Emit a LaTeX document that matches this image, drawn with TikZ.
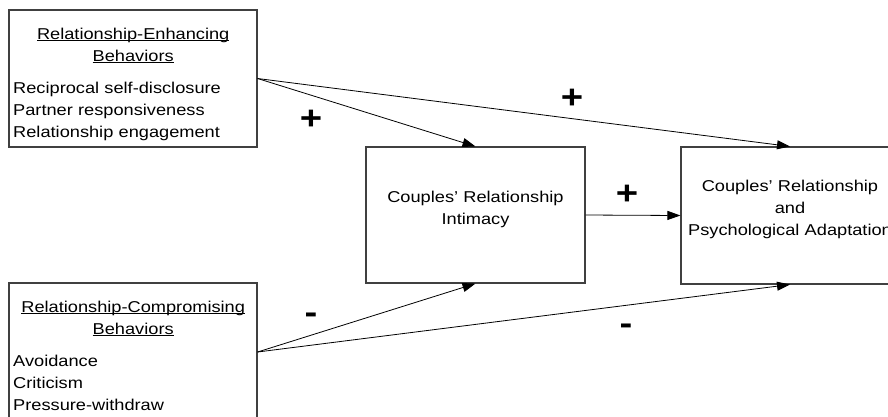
\documentclass[tikz,border=0pt]{standalone}
\usepackage{fontspec}
\setmainfont{Liberation Sans}[FakeStretch=1.16]
\usetikzlibrary{arrows.meta}

% underline drawn slightly below the baseline, through the descenders
\newsavebox\ulinebox
\newcommand\ulabel[1]{\leavevmode\sbox\ulinebox{#1}\rlap{\rule[-2.2pt]{\wd\ulinebox}{0.9pt}}\usebox\ulinebox}

\begin{document}
\begin{tikzpicture}[x=1pt,y=-1pt,
  box/.style={draw=black!75, line width=1.1pt, inner sep=0pt, fill=white},
  boxtext/.style={inner sep=0pt, font=\fontsize{15.7}{22}\selectfont},
  link/.style={draw=black, line width=0.8pt, -{Triangle[length=13pt,width=9pt]}},
  sign/.style={inner sep=0pt, font=\fontsize{33}{33}\selectfont\bfseries}]
\useasboundingbox[fill=white] (0,0) rectangle (888,416);

% behaviour boxes on the left
\node[box, minimum width=248pt, minimum height=137pt] (enh) at (133,78.5) {};
\node[boxtext, anchor=base west, text width=240pt] (enhtext) at (13,39)
  {\centering\ulabel{Relationship-Enhancing}\\\ulabel{Behaviors}\par\vspace{10pt}%
   \raggedright Reciprocal self-disclosure\\Partner responsiveness\\Relationship engagement};

\node[box, minimum width=248pt, minimum height=138pt] (comp) at (133,352) {};
\node[boxtext, anchor=base west, text width=240pt] (comptext) at (13,312)
  {\centering\ulabel{Relationship-Compromising}\\\ulabel{Behaviors}\par\vspace{10pt}%
   \raggedright Avoidance\\Criticism\\Pressure-withdraw};

% mediator and outcome
\node[box, minimum width=219pt, minimum height=136pt] (intim) at (475.5,215) {};
\node[boxtext, anchor=base, text width=210pt, align=center] (intimtext) at (475.5,202)
  {Couples’ Relationship\\Intimacy};

\node[box, minimum width=218pt, minimum height=137pt] (adapt) at (790,215.5) {};
\node[boxtext, anchor=base, text width=214pt, align=center] (adapttext) at (790,191.5)
  {Couples’ Relationship\\and\\Psychological Adaptation};

% paths
\draw[link] (enh.east) -- (intim.north);
\draw[link] (enh.east) -- (adapt.north);
\draw[link] (comp.east) -- (intim.south);
\draw[link] (comp.east) -- (adapt.south);
\draw[link] (intim.east) -- (adapt.west);

% signs of the effects
\node[sign] (p1) at (311,120) {+};
\node[sign] (p2) at (572,99) {+};
\node[sign] (p3) at (627,195) {+};
\node[sign] (m1) at (311,318) {-};
\node[sign] (m2) at (626,329) {-};
\end{tikzpicture}
\end{document}
